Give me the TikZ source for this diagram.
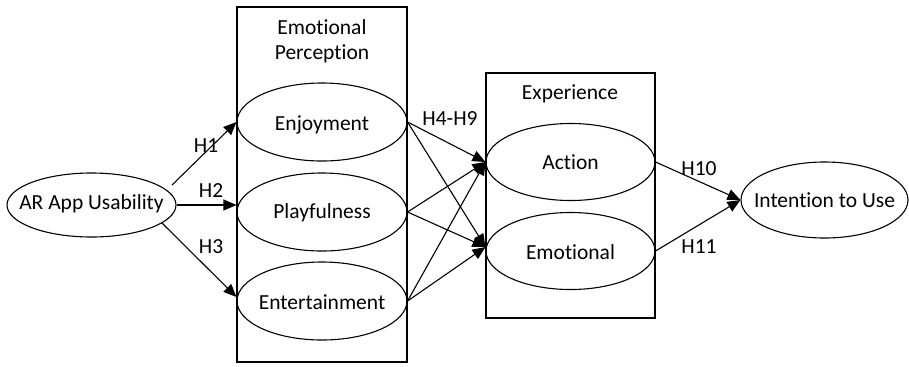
\documentclass[tikz,border=0pt]{standalone}
\usepackage{fontspec}
\setmainfont{Carlito}[Ligatures=NoCommon]
\usetikzlibrary{arrows.meta,calc,shapes.geometric}
% text of zero size, its baseline #1 below the node centre
\newcommand{\fixedlabel}[2]{\makebox[0pt]{\raisebox{-#1}{#2}}}
\begin{document}
\begin{tikzpicture}[x=1bp,y=-1bp,
  every node/.style={font=\fontsize{21.5bp}{26bp}\selectfont},
  construct/.style={draw,ellipse,line width=1.1bp,inner sep=0pt,
    text height=0pt,text depth=0pt},
  groupbox/.style={draw,line width=1.2bp},
  link/.style={line width=1.1bp,-{Triangle[length=13bp,width=11bp]}},
  hyp/.style={anchor=base,inner sep=0pt}]
\useasboundingbox (0,0) rectangle (909,366);

% grouping frames
\draw[groupbox] (237,7) rectangle (407,362);
\draw[groupbox] (486,73) rectangle (655,318);
\node[hyp] (ept1) at (322,34) {Emotional};
\node[hyp] (ept2) at (322,59) {Perception};
\node[hyp] (ext) at (570,99) {Experience};

% constructs (fixed ellipse sizes, text kept inside)
\node[construct,minimum width=169bp,minimum height=64bp] (ar) at (91.5,205) {\fixedlabel{4bp}{AR App Usability}};
\node[construct,minimum width=170bp,minimum height=78bp] (enj) at (322,122) {\fixedlabel{8bp}{Enjoyment}};
\node[construct,minimum width=170bp,minimum height=78bp] (play) at (322,212) {\fixedlabel{6.5bp}{Playfulness}};
\node[construct,minimum width=170bp,minimum height=78bp] (ent) at (322,301) {\fixedlabel{8bp}{Entertainment}};
\node[construct,minimum width=169bp,minimum height=77bp] (act) at (570.5,162) {\fixedlabel{7bp}{Action}};
\node[construct,minimum width=169bp,minimum height=77bp] (emo) at (570.5,251) {\fixedlabel{8bp}{Emotional}};
\node[construct,minimum width=167bp,minimum height=76bp] (int) at (824.5,200) {\fixedlabel{7bp}{Intention to Use}};

% usability to emotional perception
\draw[link] ($(ar.center)+(80.5,-20)$) -- (enj.west);
\draw[link] (ar.east) -- (ar.east -| play.west);
\draw[link] ($(ar.center)+(70.5,18)$) -- ($(ent.west)+(0,-4)$);

% emotional perception to experience
\foreach \s in {enj,play,ent}{
  \draw[link] (\s.east) -- (act.west);
  \draw[link] (\s.east) -- ($(emo.west)+(0,-4)$);
}

% experience to intention
\draw[link] (act.east) -- (int.west);
\draw[link] (emo.east) -- (int.west);

% hypothesis labels
\node[hyp] (h1) at (206,152) {H1};
\node[hyp] (h2) at (211,197) {H2};
\node[hyp] (h3) at (211,253) {H3};
\node[hyp] (h49) at (450,125) {H4-H9};
\node[hyp] (h10) at (699,175) {H10};
\node[hyp] (h11) at (699,253) {H11};
\end{tikzpicture}
\end{document}
